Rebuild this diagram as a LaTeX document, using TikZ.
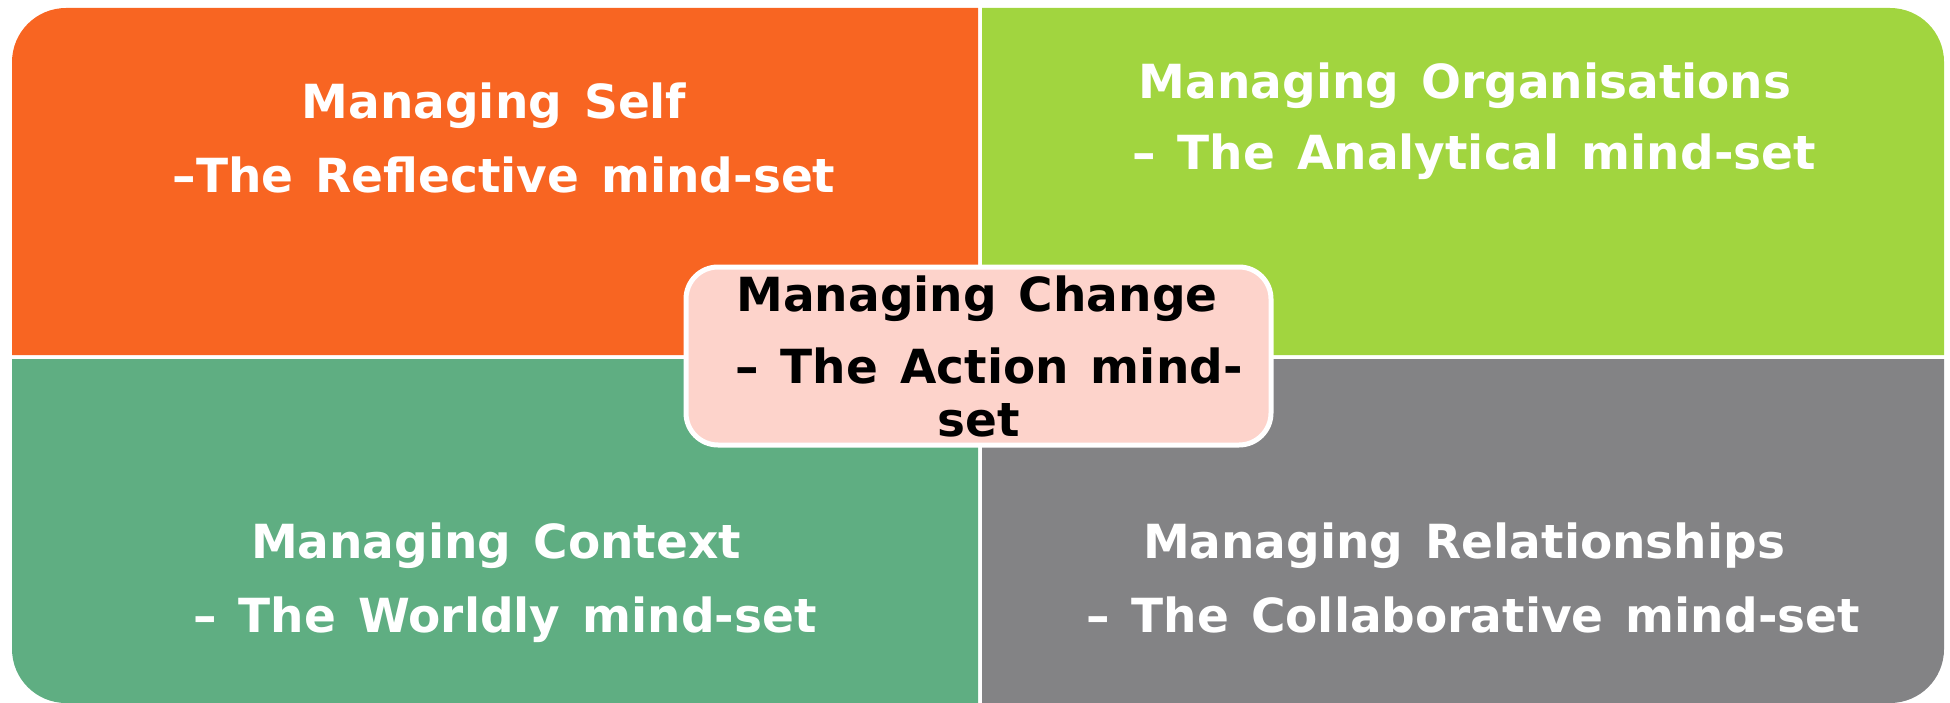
\documentclass[tikz,border=0pt]{standalone}
\usepackage{fontspec}
\setmainfont{DejaVu Sans}[WordSpace=1.35]
\definecolor{selfcol}{HTML}{F86522}
\definecolor{orgcol}{HTML}{A1D53F}
\definecolor{ctxcol}{HTML}{5FAE82}
\definecolor{relcol}{HTML}{838385}
\definecolor{chgcol}{HTML}{FDD3CB}
\tikzset{
  quadline/.style={anchor=base, inner sep=0pt, text=white,
    font=\fontsize{47}{58}\selectfont\bfseries},
  centreline/.style={anchor=base, inner sep=0pt, text=black,
    font=\fontsize{47}{58}\selectfont\bfseries},
  centrebox/.style={fill=chgcol, draw=white, line width=5pt, rounded corners=32pt}
}
\begin{document}
\begin{tikzpicture}[x=1pt,y=-1pt]
\useasboundingbox (0,0) rectangle (1950,703);
% four quadrants, each rounded only at its outer corner
\fill[selfcol] (978,8) -- (978,355) -- (12,355)
  [rounded corners=54pt] -- (12,8) [sharp corners] -- cycle;
\fill[orgcol] (982,355) -- (982,8)
  [rounded corners=54pt] -- (1944,8) [sharp corners] -- (1944,355) -- cycle;
\fill[ctxcol] (978,359) -- (978,703)
  [rounded corners=54pt] -- (12,703) [sharp corners] -- (12,359) -- cycle;
\fill[relcol] (982,359) -- (1944,359)
  [rounded corners=54pt] -- (1944,703) [sharp corners] -- (982,703) -- cycle;
% quadrant labels
\node[quadline] (self1) at (494,119) {Managing Self};
\node[quadline] (self2) at (504,193) {–The Reflective mind-set};
\node[quadline] (org1) at (1465,99) {Managing Organisations};
\node[quadline] (org2) at (1474,170) {– The Analytical mind-set};
\node[quadline] (ctx1) at (496,558) {Managing Context};
\node[quadline] (ctx2) at (505,632) {– The Worldly mind-set};
\node[quadline] (rel1) at (1464,558) {Managing Relationships};
\node[quadline] (rel2) at (1473,632) {– The Collaborative mind-set};
% central box
\path[centrebox] (686,267) rectangle (1271,445);
\node[centreline] (chg1) at (977,311) {Managing Change};
\node[centreline] (chg2) at (989,383) {– The Action mind-};
\node[centreline] (chg3) at (979,436) {set};
\end{tikzpicture}
\end{document}
